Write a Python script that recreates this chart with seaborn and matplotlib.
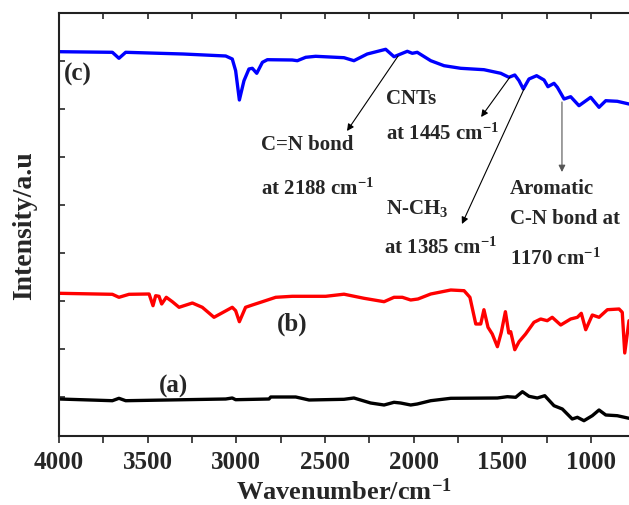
import numpy as np
import pandas as pd
import matplotlib
matplotlib.use("Agg")
import matplotlib.pyplot as plt
import seaborn as sns
from matplotlib.ticker import MultipleLocator, FixedLocator

# ---- data (intensity in arbitrary units) ----
wn_c = [4000, 3699, 3662, 3624, 3300, 3060, 3023, 3004, 2983, 2957, 2929, 2910, 2885, 2853, 2825,
        2685, 2656, 2609, 2553, 2393, 2337, 2262, 2158, 2111, 2036, 2008, 1980, 1904, 1829, 1735,
        1604, 1509, 1463, 1430, 1406, 1382, 1350, 1307, 1265, 1243, 1209, 1190, 1152, 1115, 1068,
        1002, 955, 917, 852, 786]
int_c = [384.3, 383.7, 377.7, 383.7, 382.0, 380.0, 377.0, 365.3, 336.0, 355.3, 367.0, 367.7, 362.7, 373.7, 376.3,
         376.0, 375.3, 378.7, 379.7, 378.3, 375.3, 382.0, 386.7, 379.3, 384.7, 382.7, 383.7, 375.3, 370.3, 367.7,
         366.3, 362.7, 358.7, 361.0, 355.3, 347.0, 357.0, 360.3, 356.0, 349.3, 352.7, 348.7, 337.0, 339.3, 330.3,
         338.7, 328.7, 335.3, 334.7, 332.0]

wn_b = [4000, 3699, 3662, 3605, 3492, 3470, 3455, 3436, 3421, 3395, 3361, 3323, 3248, 3192, 3126,
        3023, 3004, 2983, 2948, 2910, 2853, 2778, 2685, 2496, 2393, 2280, 2167, 2111, 2064, 2017,
        1976, 1904, 1791, 1716, 1683, 1650, 1622, 1604, 1581, 1557, 1528, 1506, 1483, 1464, 1453,
        1430, 1406, 1369, 1322, 1284, 1247, 1219, 1171, 1115, 1077, 1055, 1030, 993, 955, 908,
        842, 824, 810, 786]
int_b = [142.7, 141.7, 138.7, 141.7, 142.0, 130.3, 140.3, 139.7, 132.0, 138.7, 134.3, 128.7, 133.0, 128.7, 118.7,
         128.7, 125.3, 114.3, 128.7, 131.0, 134.3, 138.7, 139.7, 139.7, 141.8, 137.7, 134.3, 138.7, 138.7, 136.0,
         137.0, 142.0, 146.0, 145.3, 138.7, 112.0, 112.0, 126.3, 108.7, 102.0, 89.3, 103.7, 124.3, 103.0, 104.3,
         86.3, 94.3, 102.0, 113.7, 117.0, 115.3, 118.7, 111.0, 117.0, 118.7, 122.7, 106.3, 121.0, 118.7, 126.3,
         127.0, 123.7, 83.0, 115.3]

wn_a = [4000, 3699, 3662, 3624, 3060, 3023, 3004, 2816, 2806, 2665, 2590, 2393, 2337, 2243, 2167,
        2111, 2074, 2017, 1980, 1904, 1791, 1528, 1472, 1425, 1387, 1350, 1303, 1261, 1209, 1162,
        1106, 1077, 1040, 993, 955, 917, 852, 786]
int_a = [37.0, 35.3, 37.7, 35.3, 37.0, 38.0, 36.3, 37.0, 39.0, 39.0, 36.0, 36.7, 38.0, 33.0, 31.0,
         33.7, 33.0, 31.0, 32.0, 35.3, 37.7, 38.0, 39.3, 38.7, 44.3, 39.7, 38.0, 40.3, 30.3, 27.0,
         17.0, 18.7, 15.3, 20.3, 26.0, 21.0, 20.3, 17.7]

x_ticks = [4000, 3500, 3000, 2500, 2000, 1500, 1000]
y_ticks = [39, 87, 135, 183, 231, 279, 327, 375]

# ---- style ----
sns.set_theme(style="ticks")
plt.rcParams["font.family"] = ["Liberation Serif", "DejaVu Serif"]
plt.rcParams["font.weight"] = "bold"
plt.rcParams["mathtext.fontset"] = "custom"
plt.rcParams["mathtext.rm"] = "Liberation Serif:bold"
plt.rcParams["mathtext.it"] = "Liberation Serif:bold"
plt.rcParams["mathtext.bf"] = "Liberation Serif:bold"

W, H = 629, 506
fig = plt.figure(figsize=(W / 100, H / 100), dpi=100)
ax = fig.add_axes([59 / W, 1 - 437 / H, 1 - 59 / W, (437 - 14) / H])

for wn, inten, col in [(wn_c, int_c, "#0000ff"), (wn_b, int_b, "#ff0000"), (wn_a, int_a, "#000000")]:
    df = pd.DataFrame({"wn": wn, "I": inten})
    sns.lineplot(data=df, x="wn", y="I", sort=False, estimator=None, color=col, lw=2.4, ax=ax)

ax.set_xlim(4000, 786)
ax.set_ylim(0, 423)
ax.spines["right"].set_visible(False)
for s in ["left", "top", "bottom"]:
    ax.spines[s].set_linewidth(1.5)
    ax.spines[s].set_color("#222222")

ax.xaxis.set_major_locator(FixedLocator(x_ticks))
ax.xaxis.set_minor_locator(MultipleLocator(250))
ax.set_xticklabels([str(t) for t in x_ticks], fontsize=18, fontweight="bold")
ax.tick_params(axis="x", which="both", direction="out", length=5, width=1.2, top=False, pad=5)
ax.yaxis.set_major_locator(FixedLocator(y_ticks))
ax.set_yticklabels([])
ax.tick_params(axis="y", which="both", direction="in", length=4, width=1.2)

# top inward ticks
secx = ax.secondary_xaxis("top")
secx.xaxis.set_major_locator(MultipleLocator(250))
secx.set_xticklabels([])
secx.tick_params(direction="in", length=4, width=1.2)
secx.spines["top"].set_visible(False)

ax.set_xlabel(r"Wavenumber/cm$^{-1}$", fontsize=19, fontweight="bold", labelpad=3)
ax.set_ylabel("Intensity/a.u", fontsize=20, fontweight="bold", labelpad=12)

tf = dict(fontsize=15, fontweight="bold", va="baseline", ha="left")
ax.text(3972, 356, "(c)", fontsize=18, fontweight="bold", va="baseline")
ax.text(2686, 106, "(b)", fontsize=18, fontweight="bold", va="baseline", ha="center")
ax.text(3357, 44, "(a)", fontsize=18, fontweight="bold", va="baseline", ha="center")
ax.text(2156, 333, "CNTs", **tf)
ax.text(2156, 297, r"at 1445 cm$^{-1}$", **tf)
ax.text(2861, 287, "C=N bond", **tf)
ax.text(2861, 242, r"at 2188 cm$^{-1}$", **tf)
ax.text(2156, 223, r"N-CH$_3$", **tf)
ax.text(2167, 183, r"at 1385 cm$^{-1}$", **tf)
ax.text(1457, 243, "Aromatic", **tf)
ax.text(1457, 213, "C-N bond at", **tf)
ax.text(1457, 172, r"1170 cm$^{-1}$", **tf)

ap = dict(arrowstyle="-|>", color="black", lw=0.8, mutation_scale=10, shrinkA=0, shrinkB=0)
ax.annotate("", xy=(2376, 305), xytext=(2088, 380), arrowprops=ap)
ax.annotate("", xy=(1620, 319), xytext=(1457, 359), arrowprops=ap)
ax.annotate("", xy=(1728, 212), xytext=(1378, 347), arrowprops=ap)
ap2 = dict(ap, color="#555555")
ax.annotate("", xy=(1164, 264), xytext=(1164, 334), arrowprops=ap2)

fig.savefig("out.png", dpi=100)
